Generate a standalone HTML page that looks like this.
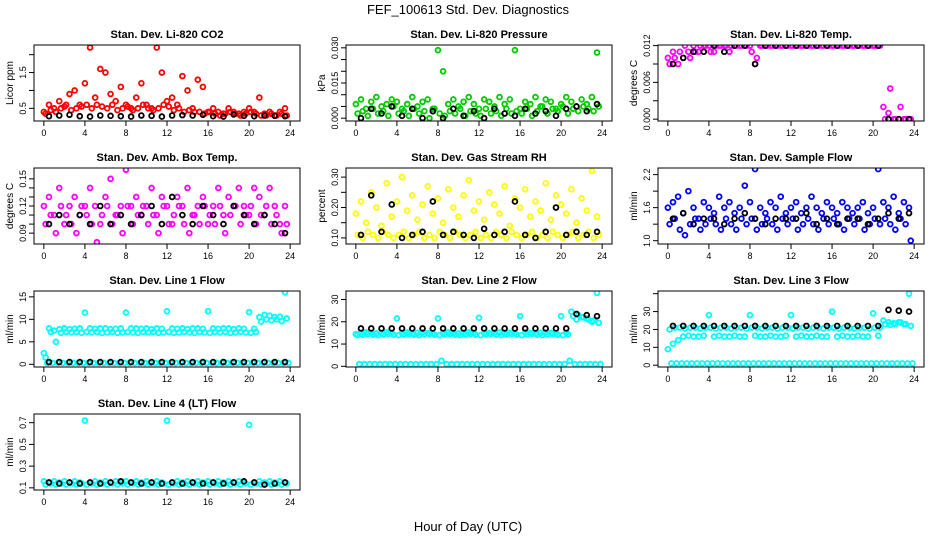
<!DOCTYPE html>
<html><head><meta charset="utf-8"><style>
body{margin:0;background:#fff}
svg{display:block;font-family:"Liberation Sans",sans-serif}
</style></head><body>
<svg id="c" width="936" height="540" viewBox="0 0 936 540">
<text x="468" y="14" text-anchor="middle" font-size="13">FEF_100613  Std. Dev. Diagnostics</text>
<text x="468" y="531" text-anchor="middle" font-size="13">Hour of Day (UTC)</text>
</svg>
<script>
// ---- data (hours: A/B series at 0.5h steps, black at hourly half-points) ----
const xTicks=[0,4,8,12,16,20,24];
const co2A=[0.4,0.6,0.5,0.7,0.55,0.9,1.0,0.6,1.2,2.2,0.8,1.6,1.5,0.9,0.7,1.1,0.6,0.5,0.8,1.2,0.6,0.5,2.2,1.5,0.7,0.8,0.6,1.4,1.0,0.5,1.3,1.1,0.4,0.5,0.4,0.35,0.5,0.4,0.35,0.4,0.5,0.4,0.8,0.35,0.4,0.3,0.4,0.5];
const co2B=[0.35,0.45,0.4,0.5,0.6,0.45,0.5,0.55,0.6,0.5,0.6,0.55,0.5,0.6,0.45,0.5,0.55,0.45,0.5,0.6,0.5,0.45,0.5,0.6,0.55,0.45,0.5,0.4,0.45,0.4,0.4,0.35,0.4,0.35,0.3,0.35,0.4,0.35,0.3,0.35,0.4,0.35,0.3,0.3,0.35,0.3,0.35,0.3];
const co2K=[0.28,0.3,0.32,0.28,0.27,0.3,0.29,0.28,0.27,0.3,0.29,0.27,0.3,0.31,0.3,0.32,0.28,0.27,0.33,0.29,0.28,0.3,0.29,0.28];
const prA=[0.006,0.008,0.004,0.007,0.009,0.005,0.006,0.008,0.007,0.004,0.006,0.009,0.005,0.007,0.008,0.004,0.029,0.020,0.006,0.008,0.005,0.007,0.009,0.006,0.004,0.008,0.007,0.005,0.009,0.006,0.008,0.029,0.004,0.007,0.006,0.009,0.005,0.008,0.007,0.004,0.006,0.009,0.007,0.005,0.008,0.006,0.009,0.028];
const prB=[0.002,0.003,0.001,0.004,0.002,0.003,0.001,0.005,0.002,0.003,0.001,0.004,0.002,0.003,0.000,0.004,0.002,0.001,0.003,0.002,0.004,0.001,0.003,0.002,0.001,0.004,0.002,0.003,0.001,0.004,0.002,0.003,0.002,0.004,0.001,0.003,0.005,0.002,0.004,0.003,0.005,0.002,0.004,0.003,0.005,0.004,0.003,0.005];
const prK=[0.000,0.004,0.002,0.005,0.001,0.004,0.000,0.003,0.000,0.004,0.001,0.003,0.000,0.004,0.002,0.001,0.004,0.002,0.003,0.001,0.004,0.005,0.003,0.006];
const tpA=[0.010,0.011,0.009,0.010,0.011,0.012,0.011,0.012,0.012,0.011,0.012,0.012,0.011,0.012,0.012,0.012,0.012,0.009,0.012,0.012,0.012,0.012,0.012,0.012,0.012,0.012,0.012,0.012,0.012,0.012,0.012,0.012,0.012,0.012,0.012,0.012,0.012,0.012,0.012,0.012,0.012,0.012,0.002,0.001,0.000,0.000,0.000,0.000];
const tpB=[0.009,0.010,0.011,0.012,0.010,0.011,0.012,0.012,0.011,0.012,0.012,0.012,0.012,0.012,0.012,0.012,0.011,0.010,0.012,0.012,0.012,0.012,0.012,0.012,0.012,0.012,0.012,0.012,0.012,0.012,0.012,0.012,0.012,0.012,0.012,0.012,0.012,0.012,0.012,0.012,0.012,0.012,0.000,0.005,0.000,0.002,0.000,0.000];
const tpK=[0.009,0.010,0.011,0.011,0.012,0.011,0.012,0.012,0.009,0.012,0.012,0.012,0.012,0.012,0.012,0.012,0.012,0.012,0.012,0.012,0.012,0.000,0.000,0.000];
const abA=[0.12,0.13,0.11,0.14,0.10,0.12,0.13,0.11,0.12,0.14,0.12,0.10,0.13,0.15,0.11,0.12,0.16,0.12,0.13,0.11,0.12,0.14,0.11,0.13,0.12,0.10,0.13,0.12,0.14,0.11,0.12,0.13,0.10,0.12,0.14,0.11,0.13,0.12,0.14,0.12,0.11,0.14,0.13,0.11,0.14,0.12,0.10,0.12];
const abB=[0.10,0.11,0.09,0.12,0.11,0.10,0.09,0.12,0.11,0.10,0.08,0.11,0.12,0.10,0.11,0.09,0.12,0.10,0.11,0.12,0.10,0.11,0.09,0.12,0.10,0.11,0.12,0.10,0.09,0.11,0.10,0.12,0.11,0.10,0.12,0.09,0.11,0.12,0.10,0.11,0.12,0.10,0.11,0.12,0.10,0.11,0.09,0.10];
const abK=[0.10,0.11,0.10,0.11,0.10,0.12,0.10,0.11,0.10,0.11,0.12,0.10,0.13,0.11,0.10,0.12,0.11,0.10,0.12,0.11,0.10,0.11,0.10,0.09];
const rhA=[0.18,0.22,0.15,0.25,0.20,0.14,0.28,0.17,0.22,0.30,0.19,0.24,0.16,0.21,0.27,0.18,0.23,0.15,0.26,0.20,0.17,0.24,0.29,0.19,0.22,0.16,0.25,0.21,0.18,0.27,0.14,0.23,0.20,0.26,0.17,0.22,0.19,0.28,0.16,0.24,0.21,0.18,0.26,0.15,0.23,0.19,0.32,0.17];
const rhB=[0.11,0.10,0.12,0.11,0.10,0.12,0.11,0.10,0.11,0.12,0.10,0.11,0.12,0.10,0.11,0.10,0.12,0.11,0.10,0.12,0.11,0.10,0.11,0.12,0.10,0.11,0.10,0.12,0.11,0.10,0.12,0.11,0.10,0.11,0.12,0.10,0.11,0.10,0.12,0.11,0.10,0.11,0.12,0.10,0.11,0.12,0.10,0.11];
const rhK=[0.11,0.24,0.12,0.21,0.10,0.11,0.12,0.22,0.11,0.12,0.11,0.10,0.13,0.11,0.12,0.22,0.11,0.10,0.12,0.20,0.11,0.12,0.11,0.12];
const sfA=[1.6,1.7,1.8,1.5,1.9,1.6,1.4,1.7,1.6,1.5,1.8,1.6,1.7,1.5,1.6,2.0,1.7,2.3,1.6,1.5,1.7,1.6,1.8,1.5,1.6,1.7,1.5,1.6,1.8,1.6,1.5,1.7,1.6,1.5,1.7,1.6,1.5,1.6,1.7,1.5,1.6,2.3,1.7,1.6,1.8,1.5,1.7,1.6];
const sfB=[1.3,1.4,1.2,1.1,1.3,1.4,1.2,1.3,1.4,1.3,1.2,1.4,1.3,1.2,1.4,1.3,1.4,1.2,1.3,1.4,1.3,1.2,1.4,1.3,1.4,1.2,1.3,1.4,1.3,1.2,1.4,1.3,1.4,1.3,1.2,1.4,1.3,1.4,1.2,1.3,1.4,1.3,1.4,1.3,1.2,1.4,1.3,1.0];
const sfK=[1.4,1.5,1.3,1.4,1.4,1.3,1.4,1.5,1.4,1.3,1.4,1.4,1.4,1.5,1.3,1.4,1.3,1.4,1.4,1.3,1.4,1.5,1.4,1.5];
const l1A=[2.5,8,7.5,7.8,8,7.8,7.9,8,11.5,8,7.9,8,8,7.8,7.9,8,11.5,8,8,7.9,8,7.8,8,7.9,11.8,8,7.9,8,7.8,8,8,7.9,11.8,8,7.9,8,8,7.8,8,7.9,11.6,7.9,10.5,11,10.8,10.5,10.6,16];
const l1B=[1.5,7.2,5,7,7.2,7.1,7.2,7,7.2,7.1,7.2,7,7.1,7.2,7,7.1,7.2,7.1,7,7.2,7.1,7.2,7,7.1,7.2,7,7.1,7.2,7.1,7,7.2,7.1,7,7.2,7.1,7.2,7,7.1,7.2,7.1,7,7.2,9.5,10,9.8,10,9.6,10.2];
const l1C=[0.3,0.3,0.3,0.3,0.3,0.3,0.3,0.3,0.3,0.3,0.3,0.3,0.3,0.3,0.3,0.3,0.3,0.3,0.3,0.3,0.3,0.3,0.3,0.3,0.3,0.3,0.3,0.3,0.3,0.3,0.3,0.3,0.3,0.3,0.3,0.3,0.3,0.3,0.3,0.3,0.3,0.3,0.3,0.3,0.3,0.3,0.3,0.3];
const l1K=[0.5,0.5,0.5,0.5,0.5,0.5,0.5,0.5,0.5,0.5,0.5,0.5,0.5,0.5,0.5,0.5,0.5,0.5,0.5,0.5,0.5,0.5,0.5,0.5];
const l2A=[14.5,15,15.2,15,14.8,15,15.2,15,21.5,15,15.2,14.8,15,15.2,15,14.8,21.5,15,15.2,15,14.8,15,15.2,15,21.8,15,14.8,15,15.2,15,15,14.8,22.5,15.2,15,14.8,15,15.2,15,15,22.5,15.1,24.5,21,22,21.5,20,33];
const l2B=[14,14.2,14.5,14.2,14,14.3,14.5,14.2,14,14.3,14.5,14.2,14,14.3,14.5,14.2,14,14.3,14.5,14.2,14,14.3,14.5,14.2,14,14.3,14.5,14.2,14,14.3,14.5,14.2,14,14.3,14.5,14.2,14,14.3,14.5,14.2,14,14.3,22.5,23,22,21,20.5,19.5];
const l2C=[1,1,1,1,1,1,1,1,1,1,1,1,1,1,1,1,2.5,1,1,1,1,1,1,1,1,1,1,1,1,1,1,1,1,1,1,1,1,1,1,1,1,2.5,1,1,1,1,1,1];
const l2K=[17,17,17,17,17,17,17,17,17,17,17,17,17,17,17,17,17,17,17,17,17,23.5,23,22.5];
const l3A=[9,12,14,16,16.5,16,16,16.5,28,16,16.5,16,16,16.5,16,16,28,16.5,16,16,16.5,16,16,16.5,28,16,16.5,16,16,16.5,16,16,30,16,16.5,16,16,16.5,16,16,29,16.5,25,24,23.5,24,23,40];
const l3B=[20,21,21,20.5,21,21,20.5,21,21,20.5,21,21,20.5,21,21,20.5,21,21,20.5,21,21,20.5,21,21,20.5,21,21,20.5,21,21,20.5,21,21,20.5,21,21,20.5,21,21,20.5,21,21,23,22.5,23,24,23,22];
const l3C=[1,1,1,1,1,1,1,1,1,1,1,1,1,1,1,1,1,1,1,1,1,1,1,1,1,1,1,1,1,1,1,1,1,1,1,1,1,1,1,1,1,1,1,1,1,1,1,1];
const l3K=[22,22,22,22,22,22,22,22,22,22,22,22,22,22,22,22,22,22,22,22,22,31,30.5,30];
const l4A=[0.16,0.15,0.16,0.15,0.16,0.15,0.16,0.15,0.72,0.15,0.16,0.15,0.16,0.15,0.16,0.15,0.16,0.15,0.16,0.15,0.16,0.15,0.16,0.15,0.72,0.15,0.16,0.15,0.16,0.15,0.16,0.15,0.16,0.15,0.16,0.15,0.16,0.15,0.16,0.15,0.68,0.15,0.16,0.15,0.16,0.15,0.16,0.15];
const l4B=[0.13,0.14,0.13,0.14,0.13,0.14,0.13,0.14,0.13,0.14,0.13,0.14,0.13,0.14,0.13,0.14,0.13,0.14,0.13,0.14,0.13,0.14,0.13,0.14,0.13,0.14,0.13,0.14,0.13,0.14,0.13,0.14,0.13,0.14,0.13,0.14,0.13,0.14,0.13,0.14,0.13,0.14,0.13,0.14,0.13,0.14,0.13,0.14];
const l4K=[0.15,0.14,0.15,0.14,0.15,0.14,0.15,0.16,0.15,0.14,0.15,0.14,0.15,0.14,0.15,0.14,0.15,0.14,0.15,0.16,0.15,0.13,0.14,0.15];

const panels=[
 {name:'co2',title:'Stan. Dev. Li-820 CO2',ylab:'Licor ppm',col:0,row:0,dom:[0.146,2.27],ticks:[0.5,1,1.5,2],labels:['0.5','','1.5',''],color:'#ff0000',series:[co2A,co2B],blk:co2K},
 {name:'pressure',title:'Stan. Dev. Li-820 Pressure',ylab:'kPa',col:1,row:0,dom:[-0.0012,0.0312],ticks:[0,0.005,0.01,0.015,0.02,0.025,0.03],labels:['0.000','','','0.015','','','0.030'],color:'#00cc00',series:[prA,prB],blk:prK},
 {name:'temp',title:'Stan. Dev. Li-820 Temp.',ylab:'degrees C',col:2,row:0,dom:[-0.0003,0.0121],ticks:[0,0.003,0.006,0.009,0.012],labels:['0.000','','0.006','','0.012'],color:'#ff00ff',series:[tpA,tpB],blk:tpK},
 {name:'amb-box-temp',title:'Stan. Dev. Amb. Box Temp.',ylab:'degrees C',col:0,row:1,dom:[0.078,0.162],ticks:[0.09,0.1,0.11,0.12,0.13,0.14,0.15],labels:['0.09','','','0.12','','','0.15'],color:'#ff00ff',series:[abA,abB],blk:abK},
 {name:'gas-rh',title:'Stan. Dev. Gas Stream RH',ylab:'percent',col:1,row:1,dom:[0.08,0.33],ticks:[0.1,0.15,0.2,0.25,0.3],labels:['0.10','','0.20','','0.30'],color:'#ffff00',series:[rhA,rhB],blk:rhK},
 {name:'sample-flow',title:'Stan. Dev. Sample Flow',ylab:'ml/min',col:2,row:1,dom:[0.94,2.32],ticks:[1.0,1.3,1.6,1.9,2.2],labels:['1.0','','1.6','','2.2'],color:'#0000ff',series:[sfA,sfB],blk:sfK},
 {name:'line1-flow',title:'Stan. Dev. Line 1 Flow',ylab:'ml/min',col:0,row:2,dom:[-0.6,16.3],ticks:[0,5,10,15],labels:['0','5','10','15'],color:'#00ffff',series:[l1A,l1B,l1C],blk:l1K},
 {name:'line2-flow',title:'Stan. Dev. Line 2 Flow',ylab:'ml/min',col:1,row:2,dom:[-0.3,33.8],ticks:[0,10,20,30],labels:['0','10','20','30'],color:'#00ffff',series:[l2A,l2B,l2C],blk:l2K},
 {name:'line3-flow',title:'Stan. Dev. Line 3 Flow',ylab:'ml/min',col:2,row:2,dom:[-1,41.5],ticks:[0,10,20,30,40],labels:['0','10','20','30',''],color:'#00ffff',series:[l3A,l3B,l3C],blk:l3K},
 {name:'line4-flow',title:'Stan. Dev. Line 4 (LT) Flow',ylab:'ml/min',col:0,row:3,dom:[0.08,0.78],ticks:[0.1,0.3,0.5,0.7],labels:['0.1','0.3','0.5','0.7'],color:'#00ffff',series:[l4A,l4B],blk:l4K}
];

const NS='http://www.w3.org/2000/svg';
const svg=document.getElementById('c');
function mk(tag,attrs,parent){const e=document.createElementNS(NS,tag);for(const k in attrs)e.setAttribute(k,attrs[k]);parent.appendChild(e);return e;}
const W=266,H=76,colX=[34,346,658],rowY=[45,168,291,414];
panels.forEach(p=>{
  const L=colX[p.col],T=rowY[p.row];
  const g=mk('g',{},svg);
  
  
  const xs=h=>L+W*(h+0.96)/25.92;
  const ys=v=>T+H-H*(v-p.dom[0])/(p.dom[1]-p.dom[0]);
  const t=mk('text',{x:L+W/2,y:T-7,'text-anchor':'middle','font-size':11,'font-weight':'bold'},g);
  t.textContent=p.title;
  
  
  const yl=mk('text',{x:0,y:0,'text-anchor':'middle','font-size':10,transform:`translate(${L-21},${T+H/2}) rotate(-90)`},g);
  yl.textContent=p.ylab;
  
  
  const cp=mk('clipPath',{id:'cp'+p.name},g);
  mk('rect',{x:L,y:T,width:W,height:H},cp);
  const pts=mk('g',{'clip-path':`url(#cp${p.name})`},g);
  p.series.forEach((arr,si)=>{
    arr.forEach((v,i)=>{
      const c=mk('circle',{cx:xs(i*0.5+si*0.17),cy:ys(v),r:2.4,fill:'none',stroke:p.color,'stroke-width':1.8},pts);
      
      
    });
  });
  p.blk.forEach((v,i)=>{
    const c=mk('circle',{cx:xs(i+0.5),cy:ys(v),r:2.4,fill:'none',stroke:'#000','stroke-width':1.8},pts);
    
    
  });
  const box=mk('rect',{x:L,y:T,width:W,height:H,fill:'none',stroke:'#000','stroke-width':1},g);
  
  
  xTicks.forEach(h=>{
    mk('line',{x1:xs(h),x2:xs(h),y1:T+H,y2:T+H+5,stroke:'#000'},g);
    const tx=mk('text',{x:xs(h),y:T+H+15,'text-anchor':'middle','font-size':9},g);
    tx.textContent=h;
    
    
  });
  p.ticks.forEach((v,i)=>{
    mk('line',{x1:L-5,x2:L,y1:ys(v),y2:ys(v),stroke:'#000'},g);
    if(p.labels[i]){
      const ty=mk('text',{x:0,y:0,'text-anchor':'middle','font-size':9,transform:`translate(${L-8},${ys(v)}) rotate(-90)`},g);
      ty.textContent=p.labels[i];
      
      
    }
  });
});
</script>
</body></html>
